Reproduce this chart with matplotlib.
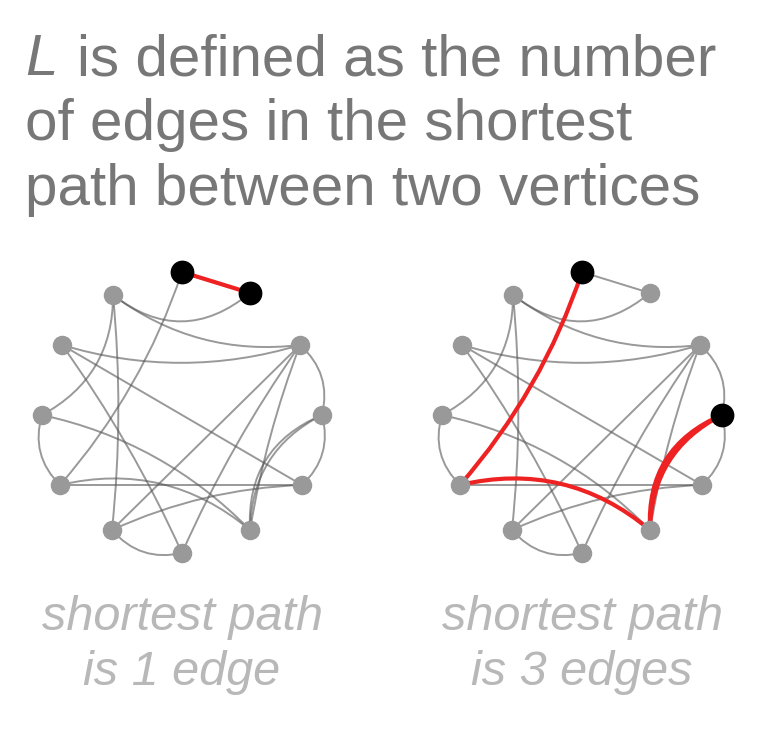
import matplotlib
matplotlib.use("Agg")
import matplotlib.pyplot as plt
from matplotlib.path import Path
from matplotlib.patches import PathPatch
import numpy as np

title_lines = ["is defined as the number", "of edges in the shortest", "path between two vertices"]
captions = [["shortest path", "is 1 edge"], ["shortest path", "is 3 edges"]]
# node positions (pixels) for left graph, clockwise from top
nodes_x = [182, 250, 300, 322, 302, 250, 182, 112, 60, 42, 62, 113]
nodes_y = [272, 293, 345, 415, 485, 530, 553, 530, 485, 415, 345, 295]
# edges (i, j, bend)
edges = [(0, 1, 0.0), (1, 11, 0.4), (0, 8, 0.1), (11, 9, 0.3), (10, 2, 0.15), (11, 2, 0.2),
         (10, 4, 0.0), (10, 6, 0.05), (2, 7, 0.0), (2, 6, 0.05), (2, 5, 0.05), (3, 2, -0.3),
         (3, 5, 0.3), (3, 4, -0.3), (9, 8, -0.3), (9, 5, 0.15), (8, 4, 0.0), (7, 6, -0.3),
         (11, 7, 0.05), (8, 5, 0.25), (5, 3, 0.35), (4, 7, 0.1)]
left_red = [(0, 1)]
left_black = [0, 1]
right_red = [(0, 8), (8, 5), (5, 3)]
right_black = [0, 3]
offsets = [0, 400]

fig = plt.figure(figsize=(7.8, 7.38), dpi=100)
ax = fig.add_axes([0, 0, 1, 1])
ax.set_xlim(0, 780)
ax.set_ylim(738, 0)
ax.axis("off")

cx, cy = 182, 413

def curve(p, q, bend):
    mx, my = (p[0] + q[0]) / 2, (p[1] + q[1]) / 2
    dx, dy = q[0] - p[0], q[1] - p[1]
    nx, ny = -dy, dx
    if (cx - mx) * nx + (cy - my) * ny < 0:
        nx, ny = -nx, -ny
    c = (mx + bend * nx, my + bend * ny)
    return Path([p, c, q], [Path.MOVETO, Path.CURVE3, Path.CURVE3])

for gi, (off, reds, blacks) in enumerate(zip(offsets, [left_red, right_red], [left_black, right_black])):
    cx = 182 + off
    pts = [(x + off, y) for x, y in zip(nodes_x, nodes_y)]
    redset = {frozenset(e) for e in reds}
    for i, j, b in edges:
        if frozenset((i, j)) in redset:
            continue
        ax.add_patch(PathPatch(curve(pts[i], pts[j], b), fill=False, ec="#555555", lw=1.4, alpha=0.6))
    for i, j, b in edges:
        if frozenset((i, j)) in redset:
            ax.add_patch(PathPatch(curve(pts[i], pts[j], b), fill=False, ec="#ee2222", lw=3.0, zorder=3))
    for k, (x, y) in enumerate(pts):
        if k in blacks:
            ax.scatter([x], [y], s=260, c="black", zorder=5)
        else:
            ax.scatter([x], [y], s=170, c="#999999", zorder=5)

fs = 42
ax.text(25, 75, "L", fontsize=fs, style="italic", color="#777777", family="Liberation Sans", va="baseline")
ax.text(77, 75, title_lines[0], fontsize=fs, color="#777777", family="Liberation Sans", va="baseline")
ax.text(25, 140, title_lines[1], fontsize=fs, color="#777777", family="Liberation Sans", va="baseline")
ax.text(25, 205, title_lines[2], fontsize=fs, color="#777777", family="Liberation Sans", va="baseline")

for cxp, cap in zip([182, 582], captions):
    for k, line in enumerate(cap):
        ax.text(cxp, 630 + 55 * k, line, fontsize=35, style="italic", color="#b8b8b8",
                family="Liberation Sans", ha="center", va="baseline")

fig.savefig("out.png", dpi=100)
